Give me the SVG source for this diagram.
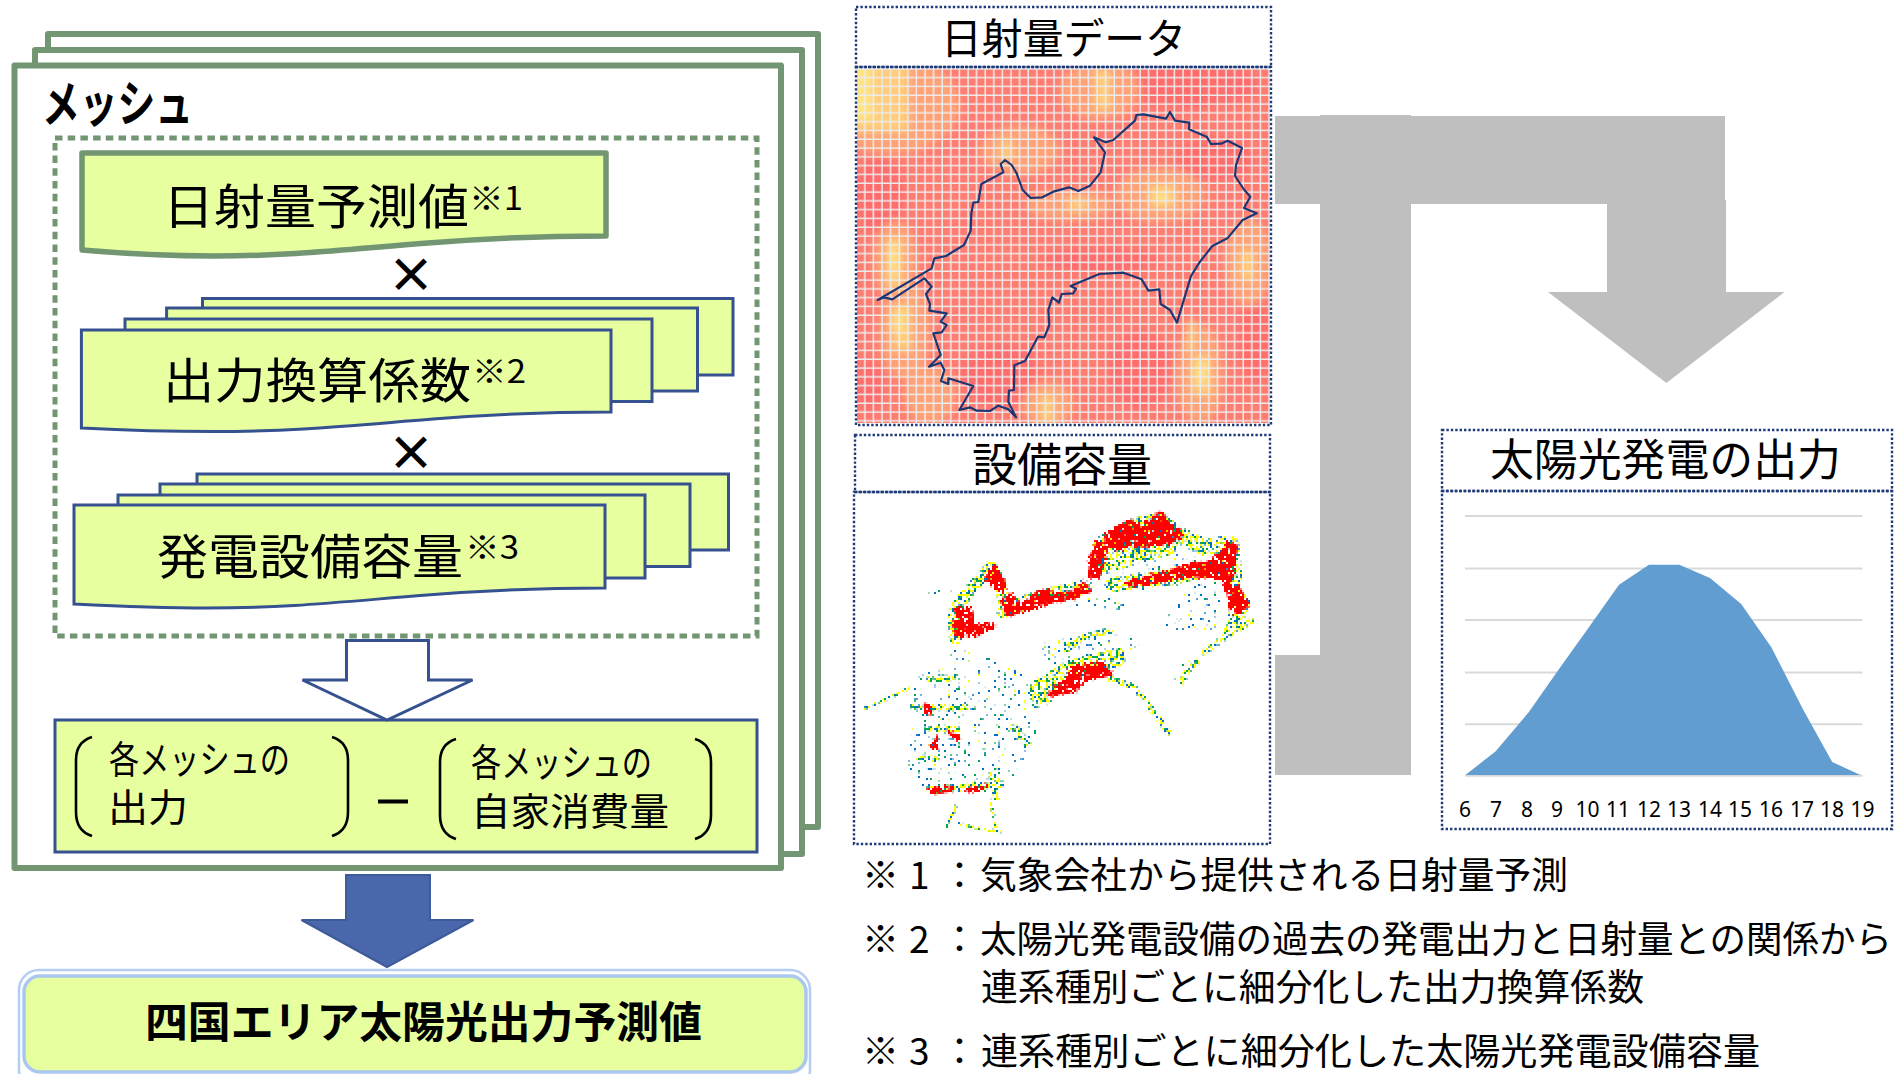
<svg xmlns="http://www.w3.org/2000/svg" width="1894" height="1074" viewBox="0 0 1894 1074">
<style>
text{font-family:"Noto Sans CJK JP","Liberation Sans",sans-serif;fill:#000}
.b{font-weight:700}
.frame{fill:#fff;stroke:#729672;stroke-width:6;stroke-linejoin:round}
.sheet{fill:#e7ff9f;stroke:#36518f;stroke-width:3}
.dot{fill:none;stroke:#1f3a78;stroke-width:2.4;stroke-dasharray:2.4 2}
.grey{fill:#bfbfbf}
.br{fill:none;stroke:#000;stroke-width:2.6}
.gl{stroke:#d9d9d9;stroke-width:2}
.num{font-family:"Noto Sans","Open Sans",sans-serif;font-size:21px;text-anchor:middle}
</style>
<defs>
<filter id="bl" x="-50%" y="-50%" width="200%" height="200%"><feGaussianBlur stdDeviation="4"/></filter>
<pattern id="grid" width="8.6" height="8.8" patternUnits="userSpaceOnUse" x="857" y="69.600">
<path d="M7.100,0H8.600V8.800H7.100ZM0,7.400H8.600V8.800H0Z" fill="#ececec"/>
</pattern>
<filter id="d1" filterUnits="userSpaceOnUse" x="0" y="0" width="1400" height="1300" color-interpolation-filters="sRGB"><feTurbulence type="fractalNoise" baseFrequency=".12" numOctaves="1" seed="3"/><feColorMatrix values="0 0 0 0 0 0 0 0 0 0 0 0 0 0 0 30 0 0 0 -17.400"/><feComposite in="SourceGraphic" operator="in"/></filter>
<filter id="d2" filterUnits="userSpaceOnUse" x="0" y="0" width="1400" height="1300" color-interpolation-filters="sRGB"><feTurbulence type="fractalNoise" baseFrequency=".12" numOctaves="1" seed="11"/><feColorMatrix values="0 0 0 0 0 0 0 0 0 0 0 0 0 0 0 30 0 0 0 -17.400"/><feComposite in="SourceGraphic" operator="in"/></filter>
<filter id="d3" filterUnits="userSpaceOnUse" x="0" y="0" width="1400" height="1300" color-interpolation-filters="sRGB"><feTurbulence type="fractalNoise" baseFrequency=".12" numOctaves="1" seed="23"/><feColorMatrix values="0 0 0 0 0 0 0 0 0 0 0 0 0 0 0 30 0 0 0 -16.500"/><feComposite in="SourceGraphic" operator="in"/></filter>
<filter id="s1" filterUnits="userSpaceOnUse" x="0" y="0" width="1400" height="1300" color-interpolation-filters="sRGB"><feTurbulence type="fractalNoise" baseFrequency=".1" numOctaves="1" seed="5"/><feColorMatrix values="0 0 0 0 0 0 0 0 0 0 0 0 0 0 0 30 0 0 0 -20.400"/><feComposite in="SourceGraphic" operator="in"/></filter>
<filter id="s2" filterUnits="userSpaceOnUse" x="0" y="0" width="1400" height="1300" color-interpolation-filters="sRGB"><feTurbulence type="fractalNoise" baseFrequency=".1" numOctaves="1" seed="17"/><feColorMatrix values="0 0 0 0 0 0 0 0 0 0 0 0 0 0 0 30 0 0 0 -21"/><feComposite in="SourceGraphic" operator="in"/></filter>
<filter id="s3" filterUnits="userSpaceOnUse" x="0" y="0" width="1400" height="1300" color-interpolation-filters="sRGB"><feTurbulence type="fractalNoise" baseFrequency=".1" numOctaves="1" seed="29"/><feColorMatrix values="0 0 0 0 0 0 0 0 0 0 0 0 0 0 0 30 0 0 0 -21.300"/><feComposite in="SourceGraphic" operator="in"/></filter>
<filter id="r1" filterUnits="userSpaceOnUse" x="0" y="0" width="1400" height="1300" color-interpolation-filters="sRGB"><feTurbulence type="fractalNoise" baseFrequency=".1" numOctaves="2" seed="41" result="n"/><feDisplacementMap in="SourceGraphic" in2="n" scale="22" xChannelSelector="R" yChannelSelector="G" result="m"/><feColorMatrix in="n" values="0 0 0 0 0 0 0 0 0 0 0 0 0 0 0 30 0 0 0 -10.500" result="a"/><feComposite in="m" in2="a" operator="in"/></filter>
<filter id="px" filterUnits="userSpaceOnUse" primitiveUnits="userSpaceOnUse" x="854" y="492" width="416" height="352" color-interpolation-filters="sRGB">
<feFlood x="854" y="492" width="1" height="1" flood-color="#000" result="f"/>
<feComposite in="f" in2="f" operator="over" x="854" y="492" width="2" height="2" result="t"/>
<feTile in="t" x="854" y="492" width="416" height="352" result="g"/>
<feComposite in="SourceGraphic" in2="g" operator="in" result="c"/>
<feOffset in="c" dx="1" result="d"/>
<feMerge result="e"><feMergeNode in="c"/><feMergeNode in="d"/></feMerge>
<feOffset in="e" dy="1" result="h"/>
<feMerge><feMergeNode in="e"/><feMergeNode in="h"/></feMerge>
</filter>
<g id="denseArea" fill="none" stroke="currentColor" stroke-linecap="round" stroke-linejoin="round">
<path fill="currentColor" stroke="none" d="M750,340L800,300L880,262L970,245L1030,300L1000,370L900,395L780,440Z"/>
<path stroke-width="50" d="M1030,320L1090,350L1170,340"/>
<path stroke-width="40" d="M1175,345L1185,430L1175,470L1210,520L1190,560L1170,600"/>
<path stroke-width="44" d="M815,462L1000,440L1170,400"/>
<path stroke-width="36" d="M345,625L340,540L380,490L415,450L452,410L480,460L495,530"/>
<path stroke-width="44" d="M490,540L600,500L735,470"/>
<path stroke-width="18" d="M1025,755L1040,720L1070,695M1092,665L1145,625L1232,572"/>
<path stroke-width="18" d="M810,745L880,770L930,830L985,905"/>
<path stroke-width="56" d="M590,785L680,720L830,680"/>
<path stroke-width="18" d="M680,655L730,620L810,600"/>
<path stroke-width="22" d="M265,1080L480,1060M455,1030L470,1100M520,890L560,940M270,745L335,745M220,830L375,830M265,890L350,900M240,985L285,985M585,820L625,810M590,750L600,790"/>
<path stroke-width="9" d="M75,832L140,805L210,772M320,1190L350,1120M350,1180L480,1205M450,1110L470,1210"/>
</g>
<g id="sparseArea">
<path fill="currentColor" d="M210,760L350,650L520,700L610,800L575,960L525,1030L460,1085L260,1085L205,1020ZM600,640L850,590L900,640L800,700L620,700ZM1020,480L1210,480L1140,600L960,610ZM800,350L1050,360L1150,470L840,480ZM265,480L350,480L330,510L265,500ZM730,470L890,540L700,530ZM1030,660L1050,700L1000,760Z"/>
</g>
</defs>
<rect width="1894" height="1074" fill="#fff"/>

<g id="mesh-frames">
<rect class="frame" x="48" y="34" width="770" height="793"/>
<rect class="frame" x="35" y="50" width="767" height="804"/>
<rect class="frame" x="14.500" y="65.500" width="766.500" height="802.500"/>
<text class="b" x="42" y="122" font-size="50" textLength="151" lengthAdjust="spacingAndGlyphs">メッシュ</text>
<rect x="55" y="138" width="702" height="498" fill="none" stroke="#729672" stroke-width="5" stroke-dasharray="7.500 5.200"/>
</g>

<g id="node-irradiance-forecast">
<path d="M82,153H606V236C550,236 490,238 428,243C340,250 290,256 214,256C180,256 140,255 82,250Z" fill="#e7ff9f" stroke="#729672" stroke-width="5.500" stroke-linejoin="round"/>
<text x="163" y="224" font-size="48" textLength="306" lengthAdjust="spacingAndGlyphs">日射量予測値</text>
<text x="469" y="210" font-size="32" textLength="54" lengthAdjust="spacingAndGlyphs">※1</text>
</g>
<text id="times-1" class="b" x="411" y="292" font-size="48" text-anchor="middle">×</text>

<g id="node-conversion-factor">
<path class="sheet" d="M202.500,298.500H733V375H202.500Z"/>
<path class="sheet" d="M166.600,308H697.500V391H166.600Z"/>
<path class="sheet" d="M125,319H652V401.500H125Z"/>
<path class="sheet" d="M81.400,330H611V412C555,412 495,414 433,419C345,426 295,431.500 214,431.500C180,431.500 140,431 81.400,428Z"/>
<text x="163" y="398" font-size="48" textLength="308" lengthAdjust="spacingAndGlyphs">出力換算係数</text>
<text x="472" y="383" font-size="32" textLength="54" lengthAdjust="spacingAndGlyphs">※2</text>
</g>
<text id="times-2" class="b" x="411" y="470" font-size="48" text-anchor="middle">×</text>

<g id="node-capacity">
<path class="sheet" d="M197,474H728.500V550H197Z"/>
<path class="sheet" d="M160,484H690V566.600H160Z"/>
<path class="sheet" d="M118,495H645V578H118Z"/>
<path class="sheet" d="M74,505H605V588C549,588 489,590 427,595C339,602 289,608 208,608C174,608 134,607 74,604Z"/>
<text x="157" y="574" font-size="48" textLength="306" lengthAdjust="spacingAndGlyphs">発電設備容量</text>
<text x="465" y="559" font-size="32" textLength="54" lengthAdjust="spacingAndGlyphs">※3</text>
</g>

<g id="node-mesh-output">
<rect x="55" y="720" width="702" height="132" fill="#e7ff9f" stroke="#36518f" stroke-width="3"/>
<path class="br" d="M92,737Q76,742 76,760V812Q76,831 92,836"/>
<path class="br" d="M332,737Q348,742 348,760V812Q348,831 332,836"/>
<path class="br" d="M456,739Q440,744 440,762V815Q440,834 456,839"/>
<path class="br" d="M695,739Q711,744 711,762V815Q711,834 695,839"/>
<text x="109" y="773" font-size="38" textLength="181" lengthAdjust="spacingAndGlyphs">各メッシュの</text>
<text x="108" y="821" font-size="38" textLength="80" lengthAdjust="spacingAndGlyphs">出力</text>
<text x="471" y="776" font-size="38" textLength="181" lengthAdjust="spacingAndGlyphs">各メッシュの</text>
<text x="471" y="825" font-size="38" textLength="198" lengthAdjust="spacingAndGlyphs">自家消費量</text>
<rect x="378" y="799.500" width="30" height="4"/>
</g>

<g id="node-total">
<rect x="19" y="970" width="791" height="120" rx="20" fill="#fff" stroke="#b5cdf2" stroke-width="2.500"/>
<rect x="24" y="976" width="782" height="96" rx="16" fill="#e7ff9f" stroke="#a9c7ef" stroke-width="3.500"/>
<text class="b" x="145" y="1038" font-size="43" textLength="557" lengthAdjust="spacingAndGlyphs">四国エリア太陽光出力予測値</text>
</g>

<g id="connectors">
<path d="M346.500,640.500H428.500V680H472.500L387,720L302.500,680H346.500Z" fill="#fff" stroke="#36518f" stroke-width="3"/>
<path d="M346,875H430V920H473.500L387,967L301.500,920H346Z" fill="#4a67ac" stroke="#3d5a99" stroke-width="2"/>
<path class="grey" d="M1275,116H1320V115H1411V116H1725V200H1726V292H1784.500L1666.400,383L1548,292H1607V204H1411V775H1320V775H1275V655H1320V204H1275Z"/>
</g>

<g id="node-irradiance-data">
<rect class="dot" x="856" y="7" width="415" height="60"/>
<text x="941" y="54" font-size="42" textLength="245" lengthAdjust="spacingAndGlyphs">日射量データ</text>
<svg x="857" y="69" width="413" height="354" viewBox="857 69 413 354">
<rect x="857" y="69" width="413" height="354" fill="#ff7c71"/>
<g filter="url(#bl)">
<g fill="#ff6c6c">
<ellipse cx="880" cy="195" rx="24" ry="40"/><ellipse cx="1190" cy="85" rx="70" ry="22"/><ellipse cx="1215" cy="160" rx="40" ry="20"/>
<ellipse cx="1100" cy="260" rx="60" ry="12"/><ellipse cx="1000" cy="375" rx="40" ry="30"/><ellipse cx="870" cy="385" rx="14" ry="25"/><ellipse cx="1140" cy="370" rx="30" ry="40"/><ellipse cx="1255" cy="340" rx="15" ry="45"/>
</g>
<g fill="#ffa277">
<ellipse cx="890" cy="105" rx="70" ry="50"/><ellipse cx="1020" cy="150" rx="40" ry="25"/><ellipse cx="1100" cy="90" rx="40" ry="30"/><ellipse cx="1070" cy="205" rx="45" ry="16"/><ellipse cx="1160" cy="195" rx="45" ry="28"/>
<ellipse cx="895" cy="260" rx="22" ry="40"/><ellipse cx="905" cy="330" rx="26" ry="50"/><ellipse cx="1248" cy="262" rx="24" ry="45"/><ellipse cx="1200" cy="375" rx="24" ry="50"/><ellipse cx="1048" cy="405" rx="26" ry="24"/><ellipse cx="930" cy="395" rx="26" ry="30"/>
</g>
<g fill="#ffcd7b">
<rect x="850" y="60" width="58" height="72"/><rect x="1095" y="70" width="16" height="40"/>
<rect x="886" y="238" width="16" height="50"/><rect x="893" y="305" width="18" height="45"/><rect x="1068" y="198" width="20" height="12"/>
<rect x="1148" y="185" width="28" height="22"/><rect x="1240" y="250" width="14" height="30"/><rect x="1192" y="355" width="18" height="40"/>
<rect x="1040" y="395" width="14" height="28"/><rect x="1000" y="140" width="12" height="20"/><rect x="1187" y="320" width="8" height="30"/>
</g>
<g fill="#ffe484"><rect x="850" y="60" width="22" height="60"/><rect x="890" y="245" width="8" height="30"/><rect x="892" y="312" width="10" height="20"/><rect x="1196" y="362" width="12" height="20"/><rect x="1156" y="193" width="10" height="10"/></g>
</g>
<rect x="857" y="69" width="413" height="354" fill="url(#grid)"/>
</svg>
<rect class="dot" x="856" y="67" width="415" height="358"/>
<polygon transform="translate(840) scale(.33333)" fill="none" stroke="#1c3773" stroke-width="6.500" stroke-linejoin="round" points="113,900 275,805 283,775 318,768 372,735 392,692 394,640 400,608 415,606 424,552 490,517 482,492 495,480 515,495 530,520 548,570 572,594 607,592 640,575 687,562 715,573 750,557 782,517 795,457 762,412 797,427 820,420 885,362 889,345 910,343 978,356 990,336 1005,362 1048,368 1047,388 1100,410 1113,432 1143,431 1163,422 1206,444 1188,495 1185,528 1213,570 1231,590 1212,624 1250,640 1208,660 1162,715 1117,738 1080,785 1053,828 1011,968 990,930 962,912 958,868 925,872 905,838 850,818 778,822 692,858 708,866 700,880 665,882 657,908 637,892 625,930 628,975 613,1012 594,1010 555,1083 523,1096 522,1170 507,1172 505,1205 528,1252 505,1228 475,1217 450,1233 410,1232 390,1222 358,1230 400,1158 325,1135 325,1152 303,1143 313,1110 302,1088 267,1100 302,1065 280,1000 305,997 320,975 302,965 320,940 268,932 270,912 258,882 275,860 253,835 157,898 133,892"/>
</g>

<g id="node-capacity-data">
<rect class="dot" x="855" y="435" width="415" height="57"/>
<text x="972" y="481" font-size="46" textLength="180" lengthAdjust="spacingAndGlyphs">設備容量</text>
<rect class="dot" x="854" y="492" width="416" height="352"/>
<g filter="url(#px)">
<g transform="translate(840 430) scale(.33333)">
<use href="#sparseArea" color="#0070c0" filter="url(#s1)"/>
<use href="#sparseArea" color="#00a651" filter="url(#s2)"/>
<use href="#sparseArea" color="#ffff00" filter="url(#s3)"/>
<use href="#denseArea" color="#0070c0" filter="url(#d1)"/>
<use href="#denseArea" color="#00a651" filter="url(#d2)"/>
<use href="#denseArea" color="#ffff00" filter="url(#d3)"/>
<g fill="#f00" stroke="#f00" stroke-width="14" stroke-linejoin="round" filter="url(#r1)">
<path d="M800,320L840,285L870,270L905,290L965,250L985,285L1025,310L985,335L900,345L870,340L830,355L800,340Z"/>
<path d="M755,440L750,390L770,340L795,350L790,400L770,440Z"/>
<path d="M860,458L950,435L1030,410L1100,400L1140,375L1165,340L1185,345L1175,430L1165,475L1135,440L1060,432L960,450L880,462Z"/>
<path d="M1165,475L1195,475L1220,520L1190,550L1170,530Z"/>
<path d="M490,512L510,495L540,525L590,490L620,480L650,495L700,490L730,460L745,480L700,500L620,515L560,540L500,550Z"/>
<path d="M440,440L465,410L490,460L490,485L460,465Z"/>
<path d="M342,595L355,535L390,535L395,582L462,587L410,612L350,612Z"/>
<path d="M630,790L680,745L700,710L780,700L810,730L740,745L700,780L650,790Z"/>
<path stroke-width="6" d="M265,1075L340,1068L335,1082L270,1088ZM380,1075L440,1062L440,1072L385,1085ZM330,905L358,920L352,930L325,912ZM272,950L290,920L292,955ZM255,820L270,825L272,855L255,850Z"/>
</g>
</g>
</g>
</g>

<g id="node-pv-output">
<rect class="dot" x="1442" y="430" width="450" height="61"/>
<text x="1490" y="476" font-size="44" textLength="351" lengthAdjust="spacingAndGlyphs">太陽光発電の出力</text>
<rect class="dot" x="1442" y="491" width="450" height="338"/>
<g class="gl"><path d="M1465,516H1862.500M1465,568.600H1862.500M1465,620H1862.500M1465,672.400H1862.500M1465,724.300H1862.500M1465,775.800H1862.500"/></g>
<path fill="#629dd1" d="M1465.400,775L1495.700,751.300L1528.900,712L1559.200,668.700L1589.600,626.200L1619,584.700L1649,564.800H1679.300L1710,578L1741.200,604L1771.500,647.400L1802.700,708.800L1832.200,762L1860.500,775Z"/>
<g class="num">
<text class="num" x="1465" y="817">6</text><text class="num" x="1496" y="817">7</text><text class="num" x="1527" y="817">8</text><text class="num" x="1557" y="817">9</text><text class="num" x="1587.500" y="817">10</text><text class="num" x="1618" y="817">11</text><text class="num" x="1649" y="817">12</text><text class="num" x="1679" y="817">13</text><text class="num" x="1710" y="817">14</text><text class="num" x="1740" y="817">15</text><text class="num" x="1771" y="817">16</text><text class="num" x="1802" y="817">17</text><text class="num" x="1832" y="817">18</text><text class="num" x="1862.500" y="817">19</text>
</g>
</g>

<g id="notes" font-size="37">
<text x="862" y="889" font-size="37">※<tspan x="909">1</tspan><tspan x="941">：</tspan></text>
<text x="980" y="889" font-size="37" textLength="588" lengthAdjust="spacingAndGlyphs">気象会社から提供される日射量予測</text>
<text x="862" y="953" font-size="37">※<tspan x="909">2</tspan><tspan x="941">：</tspan></text>
<text x="980" y="953" font-size="37" textLength="912" lengthAdjust="spacingAndGlyphs">太陽光発電設備の過去の発電出力と日射量との関係から</text>
<text x="981" y="1001" font-size="37" textLength="663" lengthAdjust="spacingAndGlyphs">連系種別ごとに細分化した出力換算係数</text>
<text x="862" y="1065" font-size="37">※<tspan x="909">3</tspan><tspan x="941">：</tspan></text>
<text x="981" y="1065" font-size="37" textLength="779" lengthAdjust="spacingAndGlyphs">連系種別ごとに細分化した太陽光発電設備容量</text>
</g>
</svg>
